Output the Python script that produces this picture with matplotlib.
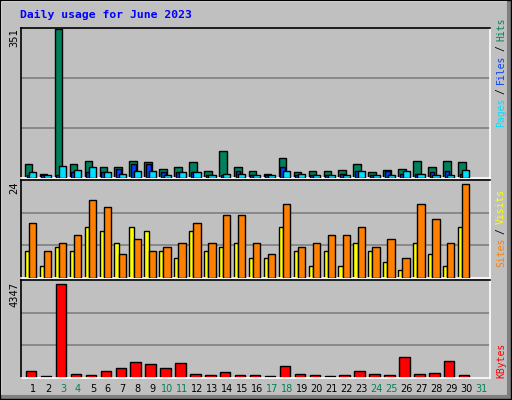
import matplotlib
matplotlib.use("Agg")
import matplotlib.pyplot as plt
import numpy as np
from matplotlib.lines import Line2D

days = list(range(1, 31))
hits = [32,10,351,32,39,27,27,41,37,22,27,37,17,63,27,17,10,46,15,17,17,20,34,15,20,22,41,27,41,37]
files = [8,6,6,13,13,15,22,34,32,15,13,13,8,8,17,8,8,25,8,8,8,10,17,8,17,10,10,13,17,10]
pages = [13,6,29,20,25,15,10,17,17,8,15,15,8,10,10,8,8,17,10,6,8,6,17,8,6,17,10,8,8,20]
visits = [7,3,8,7,13,12,9,13,12,7,5,12,7,8,9,5,5,13,7,3,7,3,9,7,4,2,9,6,3,13]
sites = [14,7,9,11,20,18,6,10,7,8,9,14,9,16,16,9,6,19,8,9,11,11,13,8,10,5,19,15,9,24]
kbytes = [316,79,4347,174,126,316,458,743,648,458,695,174,126,269,126,126,79,553,174,126,79,126,316,174,126,980,174,221,790,126]
day_labels = [str(d) for d in range(1, 32)]
weekend = {3,4,10,11,17,18,24,25,31}

W, H = 512, 400
fig = plt.figure(figsize=(W/100, H/100), dpi=100)
fig.patch.set_facecolor("#C0C0C0")
BG = "#C0C0C0"

def ax_at(x0, y0, x1, y1):
    return fig.add_axes([x0/W, 1-y1/H, (x1-x0)/W, (y1-y0)/H])

x = np.array(days, dtype=float)
XL = (0.19, 31.6)
axes = []
panels = [(21, 28, 490, 178), (21, 180, 490, 278), (21, 280, 490, 378)]
for p in panels:
    a = ax_at(*p)
    a.set_facecolor(BG)
    a.set_xlim(*XL)
    a.set_xticks([]); a.set_yticks([])
    for s in ["top", "left"]:
        a.spines[s].set_color("black"); a.spines[s].set_linewidth(1.2)
    for s in ["bottom", "right"]:
        a.spines[s].set_color("white"); a.spines[s].set_linewidth(1.2)
    axes.append(a)

def grid(a, top):
    for f in (1/3, 2/3):
        a.axhline(top*f, color="#808080", lw=1.2, zorder=0)

a1, a2, a3 = axes
a1.set_ylim(0, 353); grid(a1, 353)
a1.bar(x-0.55, hits, width=0.51, align="edge", color="#00805C", edgecolor="black", lw=1, zorder=2)
a1.bar(x-0.44, files, width=0.32, align="edge", color="#0040FF", edgecolor="black", lw=1, zorder=3)
a1.bar(x-0.26, pages, width=0.48, align="edge", color="#00E0FF", edgecolor="black", lw=1, zorder=4)

a2.set_ylim(0, 25); grid(a2, 25)
a2.bar(x-0.55, visits, width=0.28, align="edge", color="#FFFF00", edgecolor="black", lw=1, zorder=2)
a2.bar(x-0.27, sites, width=0.49, align="edge", color="#FF8000", edgecolor="black", lw=1, zorder=3)

a3.set_ylim(0, 4530); grid(a3, 4530)
a3.bar(x-0.48, kbytes, width=0.70, align="edge", color="#FF0000", edgecolor="black", lw=1, zorder=2)

mono = "DejaVu Sans Mono"
fig.text(20/W, 1-15/H, "Daily usage for June 2023", color="#0000FF", fontsize=8.2,
         fontweight="bold", family=mono, va="center", ha="left")
for txt, yt in [("351", 28), ("24", 181), ("4347", 282)]:
    fig.text(14/W, 1-yt/H, txt, rotation=90, fontsize=7.5, family=mono, ha="center", va="top")

def side(parts, ybot):
    y = ybot
    for t, c in parts:
        fig.text(501/W, 1-y/H, t, rotation=90, color=c, fontsize=7, family=mono,
                 ha="center", va="bottom")
        y -= (len(t)*5.85 + 4)

side([("Pages", "#00E0FF"), ("/", "#000000"), ("Files", "#0040FF"), ("/", "#000000"), ("Hits", "#00805C")], 127)
side([("Sites", "#FF8000"), ("/", "#000000"), ("Visits", "#FFFF00")], 267)
side([("KBytes", "#FF0000")], 378)

for i, lbl in enumerate(day_labels):
    d = i + 1
    xp = 21 + (d - XL[0]) / (XL[1]-XL[0]) * (490-21)
    fig.text(xp/W, 1-389/H, lbl, fontsize=7, ha="center", va="center",
             color="#00805C" if d in weekend else "black")

def fl(xs, ys, c, lw=1.5):
    fig.add_artist(Line2D([v/W for v in xs], [1-v/H for v in ys], color=c, lw=lw))
fl([1, 511], [1, 1], "white"); fl([1, 1], [1, 399], "white")
fl([509, 509], [2, 398], "#808080", 3); fl([2, 509], [397, 397], "#808080", 3)
fl([0, 511, 511, 0, 0], [0, 0, 399, 399, 0], "black", 1)

fig.savefig("out.png", dpi=100, facecolor=fig.get_facecolor())
